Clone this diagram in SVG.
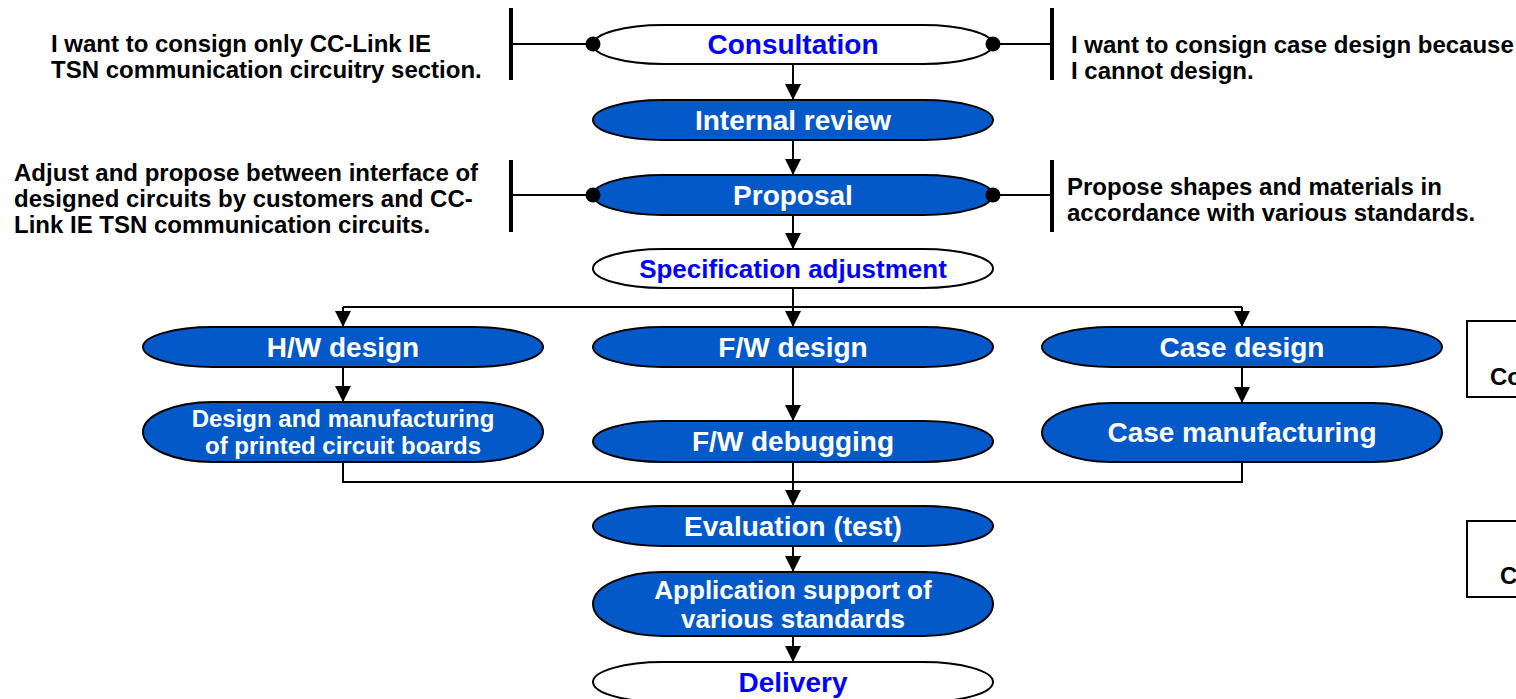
<svg xmlns="http://www.w3.org/2000/svg" width="1516" height="699" viewBox="0 0 1516 699">
<defs>
<style>
.n{stroke:#000;stroke-width:2}
.b{fill:#0359C8}
.w{fill:#fff}
.tw{fill:#fff;font-family:"Liberation Sans",Arial,sans-serif;font-weight:bold;text-anchor:middle}
.tb{fill:#0000FF;font-family:"Liberation Sans",Arial,sans-serif;font-weight:bold;text-anchor:middle}
.note{fill:#000;font-family:"Liberation Sans",Arial,sans-serif;font-weight:bold;font-size:24px}
.c{stroke:#000;stroke-width:2;fill:none}
.bar{stroke:#000;stroke-width:4;fill:none}
.dot{fill:#000}
</style>
<marker id="ah" viewBox="0 0 16 16" refX="16" refY="8" markerWidth="16" markerHeight="16" markerUnits="userSpaceOnUse" orient="auto">
<path d="M0,0 L16,8 L0,16 Z" fill="#000"/>
</marker>
</defs>
<rect width="1516" height="699" fill="#fff"/>

<g id="connectors">
<path class="c" d="M793,64 V100" marker-end="url(#ah)"/>
<path class="c" d="M793,140 V175" marker-end="url(#ah)"/>
<path class="c" d="M793,215 V249" marker-end="url(#ah)"/>
<path class="c" d="M793,288 V307 M343,307 H1242"/>
<path class="c" d="M343,307 V327" marker-end="url(#ah)"/>
<path class="c" d="M793,307 V327" marker-end="url(#ah)"/>
<path class="c" d="M1242,307 V327" marker-end="url(#ah)"/>
<path class="c" d="M343,367 V402" marker-end="url(#ah)"/>
<path class="c" d="M793,367 V421" marker-end="url(#ah)"/>
<path class="c" d="M1242,367 V403" marker-end="url(#ah)"/>
<path class="c" d="M343,462 V482 H1242 V462 M793,462 V482"/>
<path class="c" d="M793,482 V506" marker-end="url(#ah)"/>
<path class="c" d="M793,546 V572" marker-end="url(#ah)"/>
<path class="c" d="M793,636 V662" marker-end="url(#ah)"/>
<path class="c" d="M511,44 H593 M993,44 H1052"/>
<path class="c" d="M511,195 H593 M993,195 H1052"/>
<path class="bar" d="M511,8 V80 M1052,8 V80"/>
<path class="bar" d="M511,160 V232 M1052,160 V232"/>
</g>

<g id="consultation">
<path class="n w" d="M663,25 H923 A70,19.5 0 0 1 923,64 H663 A70,19.5 0 0 1 663,25 Z"/>
<text class="tb" x="793" y="54" font-size="28">Consultation</text>
<circle class="dot" cx="593" cy="44" r="7.5"/>
<circle class="dot" cx="993" cy="44" r="7.5"/>
</g>

<g id="note-left-1">
<text class="note" x="51" y="52">I want to consign only CC-Link IE</text>
<text class="note" x="51" y="78">TSN communication circuitry section.</text>
</g>
<g id="note-right-1">
<text class="note" x="1071" y="53">I want to consign case design because</text>
<text class="note" x="1071" y="79">I cannot design.</text>
</g>

<g id="internal-review">
<path class="n b" d="M663,100 H923 A70,20 0 0 1 923,140 H663 A70,20 0 0 1 663,100 Z"/>
<text class="tw" x="793" y="130" font-size="28">Internal review</text>
</g>

<g id="proposal">
<path class="n b" d="M663,175 H923 A70,20 0 0 1 923,215 H663 A70,20 0 0 1 663,175 Z"/>
<text class="tw" x="793" y="205" font-size="28">Proposal</text>
<circle class="dot" cx="593" cy="195" r="7.5"/>
<circle class="dot" cx="993" cy="195" r="7.5"/>
</g>

<g id="note-left-2">
<text class="note" x="14" y="181">Adjust and propose between interface of</text>
<text class="note" x="14" y="207">designed circuits by customers and CC-</text>
<text class="note" x="14" y="233">Link IE TSN communication circuits.</text>
</g>
<g id="note-right-2">
<text class="note" x="1067" y="195">Propose shapes and materials in</text>
<text class="note" x="1067" y="221">accordance with various standards.</text>
</g>

<g id="spec-adjustment">
<path class="n w" d="M663,249 H923 A70,19.5 0 0 1 923,288 H663 A70,19.5 0 0 1 663,249 Z"/>
<text class="tb" x="793" y="278" font-size="26">Specification adjustment</text>
</g>

<g id="hw-design">
<path class="n b" d="M213,327 H473 A70,20 0 0 1 473,367 H213 A70,20 0 0 1 213,327 Z"/>
<text class="tw" x="343" y="357" font-size="28">H/W design</text>
</g>
<g id="fw-design">
<path class="n b" d="M663,327 H923 A70,20 0 0 1 923,367 H663 A70,20 0 0 1 663,327 Z"/>
<text class="tw" x="793" y="357" font-size="28">F/W design</text>
</g>
<g id="case-design">
<path class="n b" d="M1112,327 H1372 A70,20 0 0 1 1372,367 H1112 A70,20 0 0 1 1112,327 Z"/>
<text class="tw" x="1242" y="357" font-size="28">Case design</text>
</g>

<g id="pcb">
<path class="n b" d="M213,402 H473 A70,30 0 0 1 473,462 H213 A70,30 0 0 1 213,402 Z"/>
<text class="tw" x="343" y="427" font-size="24">Design and manufacturing</text>
<text class="tw" x="343" y="454" font-size="24">of printed circuit boards</text>
</g>
<g id="fw-debugging">
<path class="n b" d="M663,421 H923 A70,20.5 0 0 1 923,462 H663 A70,20.5 0 0 1 663,421 Z"/>
<text class="tw" x="793" y="451" font-size="28">F/W debugging</text>
</g>
<g id="case-manufacturing">
<path class="n b" d="M1112,403 H1372 A70,29.5 0 0 1 1372,462 H1112 A70,29.5 0 0 1 1112,403 Z"/>
<text class="tw" x="1242" y="442" font-size="28">Case manufacturing</text>
</g>

<g id="evaluation">
<path class="n b" d="M663,506 H923 A70,20 0 0 1 923,546 H663 A70,20 0 0 1 663,506 Z"/>
<text class="tw" x="793" y="536" font-size="28">Evaluation (test)</text>
</g>
<g id="application-support">
<path class="n b" d="M663,572 H923 A70,32 0 0 1 923,636 H663 A70,32 0 0 1 663,572 Z"/>
<text class="tw" x="793" y="599" font-size="26">Application support of</text>
<text class="tw" x="793" y="628" font-size="26">various standards</text>
</g>
<g id="delivery">
<path class="n w" d="M663,662 H923 A70,20 0 0 1 923,702 H663 A70,20 0 0 1 663,662 Z"/>
<text class="tb" x="793" y="692" font-size="28">Delivery</text>
</g>

<g id="box-1">
<rect x="1467" y="321" width="120" height="76" fill="#fff" stroke="#000" stroke-width="2"/>
<text class="note" x="1490" y="385">Co</text>
</g>
<g id="box-2">
<rect x="1467" y="521" width="120" height="76" fill="#fff" stroke="#000" stroke-width="2"/>
<text class="note" x="1500" y="584">C</text>
</g>
</svg>
